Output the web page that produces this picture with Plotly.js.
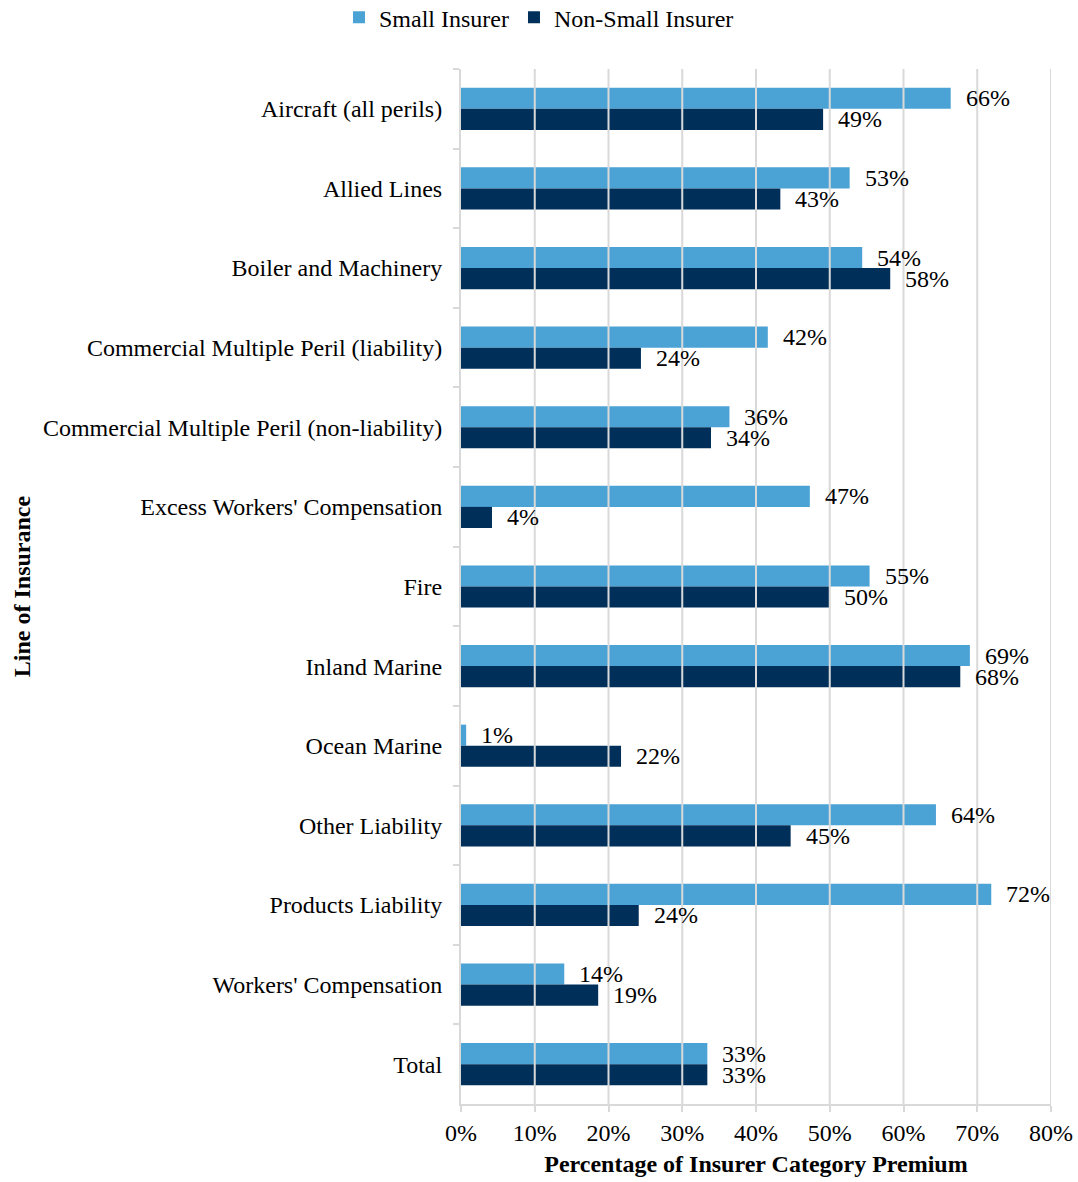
<!DOCTYPE html>
<html>
<head>
<meta charset="utf-8">
<script src="https://cdn.plot.ly/plotly-3.0.1.min.js"></script>
<style>html,body{margin:0;padding:0;background:#fff;}#chart{width:1078px;height:1182px;}</style>
</head>
<body>
<div id="chart"></div>
<script>
const categories = [
  "Aircraft (all perils)",
  "Allied Lines",
  "Boiler and Machinery",
  "Commercial Multiple Peril (liability)",
  "Commercial Multiple Peril (non-liability)",
  "Excess Workers' Compensation",
  "Fire",
  "Inland Marine",
  "Ocean Marine",
  "Other Liability",
  "Products Liability",
  "Workers' Compensation",
  "Total"
];
const smallInsurer = [66.4, 52.7, 54.4, 41.6, 36.4, 47.3, 55.4, 69.0, 0.7, 64.4, 71.9, 14.0, 33.4];
const nonSmallInsurer = [49.1, 43.3, 58.2, 24.4, 33.9, 4.2, 49.9, 67.7, 21.7, 44.7, 24.1, 18.6, 33.4];
const xTickVals = [0, 10, 20, 30, 40, 50, 60, 70, 80];
const xTickText = ["0%", "10%", "20%", "30%", "40%", "50%", "60%", "70%", "80%"];

const FONT = '"Liberation Serif", "Times New Roman", serif';
const FS = 24;
const GRID = '#d9d9d9';

const traces = [
  {
    type: 'bar', orientation: 'h', name: 'Small Insurer',
    y: categories, x: smallInsurer,
    marker: {color: '#4BA2D5'}, hoverinfo: 'x+y'
  },
  {
    type: 'bar', orientation: 'h', name: 'Non-Small Insurer',
    y: categories, x: nonSmallInsurer,
    marker: {color: '#00305A'}, hoverinfo: 'x+y'
  }
];

const gridShapes = xTickVals.filter(v => v > 0).map(v => ({
  type: 'line', xref: 'x', yref: 'paper', x0: v, x1: v, y0: 0, y1: 1,
  line: {color: GRID, width: 2}, layer: 'above'
}));

function labels(vals, yshift) {
  return vals.map((v, i) => ({
    xref: 'x', yref: 'y', x: v, y: categories[i],
    text: Math.round(v) + '%', showarrow: false,
    xanchor: 'left', yanchor: 'middle', xshift: 13, yshift: yshift,
    font: {family: FONT, size: FS, color: '#000'}
  }));
}

const layout = {
  width: 1078, height: 1182,
  margin: {l: 461, r: 27, t: 69, b: 78},
  paper_bgcolor: '#fff', plot_bgcolor: '#fff',
  font: {family: FONT, size: FS, color: '#000'},
  barmode: 'group', bargap: 0.47, bargroupgap: 0,
  showlegend: true,
  legend: {
    orientation: 'h', xref: 'container', yref: 'container',
    x: 0.5, xanchor: 'center', y: 0.985, yanchor: 'middle',
    font: {family: FONT, size: FS, color: '#000'},
    traceorder: 'normal', itemwidth: 30, bgcolor: 'rgba(0,0,0,0)'
  },
  xaxis: {
    range: [0, 80], tickvals: xTickVals, ticktext: xTickText,
    showgrid: false, zeroline: false,
    showline: true, linecolor: GRID, linewidth: 2,
    ticks: 'outside', ticklen: 6, tickwidth: 2, tickcolor: GRID,
    tickfont: {family: FONT, size: FS, color: '#000'},
    title: {text: '<b>Percentage of Insurer Category Premium</b>', font: {family: FONT, size: FS, color: '#000'}, standoff: 10},
    automargin: false, fixedrange: true
  },
  yaxis: {
    type: 'category', autorange: 'reversed',
    showgrid: false, zeroline: false,
    showline: true, linecolor: GRID, linewidth: 2,
    ticks: 'outside', tickson: 'boundaries', ticklen: 6, tickwidth: 2, tickcolor: GRID,
    ticklabelstandoff: 12,
    tickfont: {family: FONT, size: FS, color: '#000'},
    title: {text: '<b>Line of Insurance</b>', font: {family: FONT, size: FS, color: '#000'}, standoff: 6},
    automargin: false, fixedrange: true
  },
  shapes: gridShapes,
  annotations: labels(smallInsurer, 10.5).concat(labels(nonSmallInsurer, -10.5))
};

Plotly.newPlot('chart', traces, layout, {displayModeBar: false, staticPlot: true});
</script>
</body>
</html>
